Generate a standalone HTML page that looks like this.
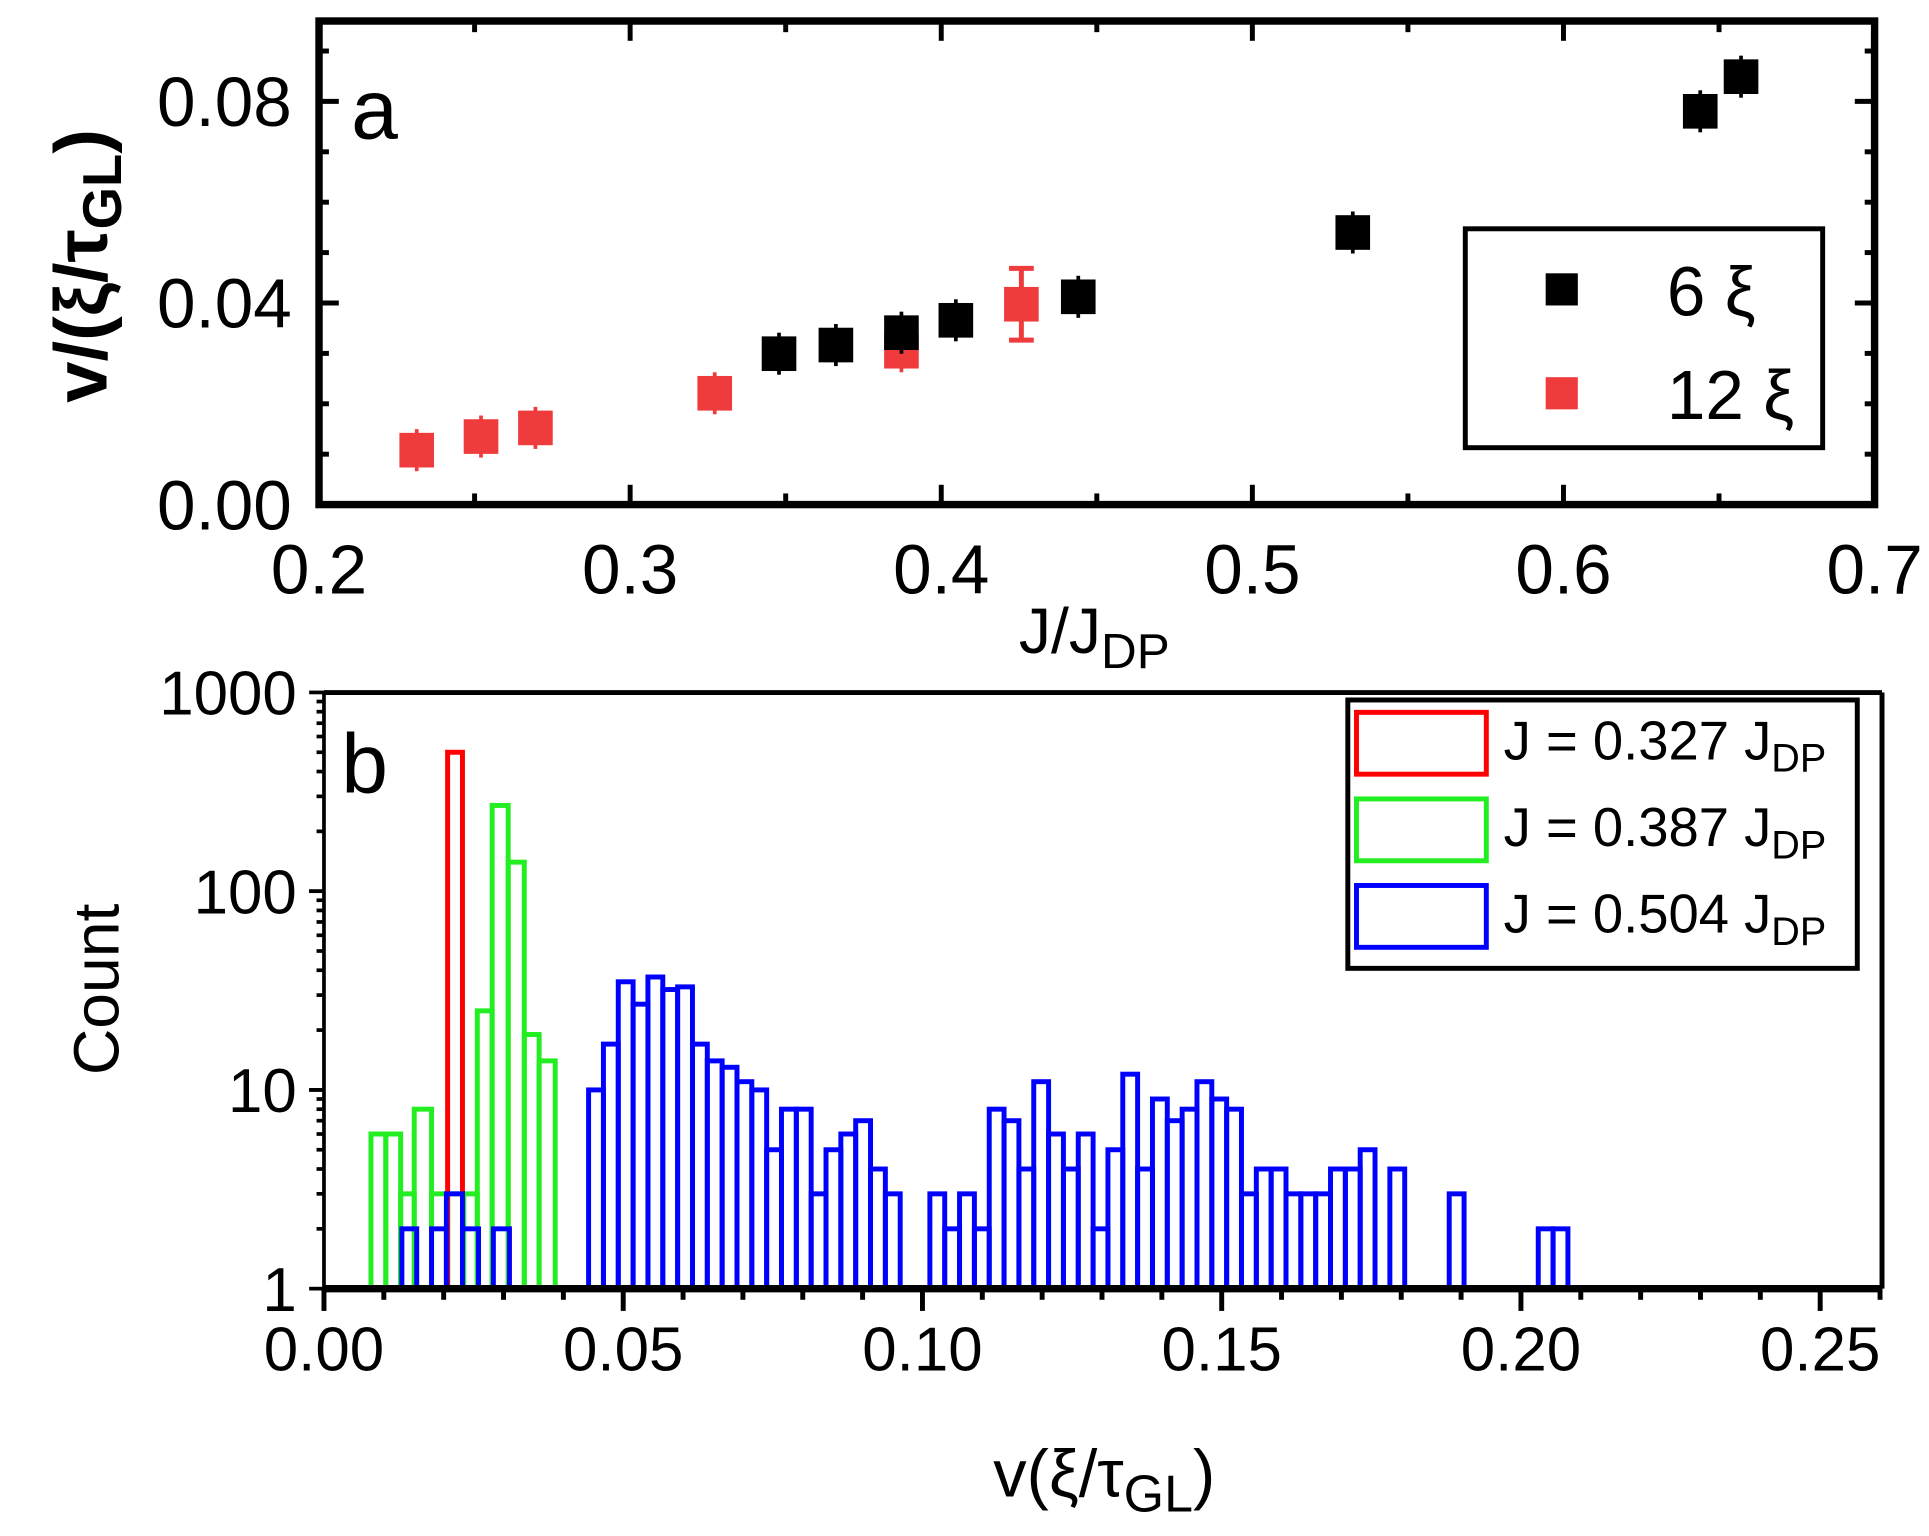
<!DOCTYPE html>
<html><head><meta charset="utf-8">
<style>
html,body{margin:0;padding:0;background:#fff;}
svg{display:block;}
text{font-family:"Liberation Sans",sans-serif;fill:#000;}
</style></head>
<body>
<svg id="s" width="1929" height="1536" viewBox="0 0 1560 1242" preserveAspectRatio="none" xmlns="http://www.w3.org/2000/svg">
<rect width="1560" height="1242" fill="#fff"/>
<g id="a"></g>
<g id="b"></g>
</svg>
<script>
const NS="http://www.w3.org/2000/svg";
function el(p,tag,attrs,txt){const e=document.createElementNS(NS,tag);for(const k in attrs)e.setAttribute(k,attrs[k]);if(txt!==undefined)e.innerHTML=txt;p.appendChild(e);return e;}
const A=document.getElementById('a'),B=document.getElementById('b');
// ---- Panel a ----
const ax0=258,ax1=1516,ay0=17,ay1=408;
const X=v=>258+(v-0.2)*2516, Y=v=>408-v*4075;
for(let i=0;i<=10;i++){const v=0.2+i*0.05,x=X(v),L=(i%2==0)?16:9;
 el(A,'line',{x1:x,y1:ay1,x2:x,y2:ay1-L,stroke:'#000','stroke-width':4});
 el(A,'line',{x1:x,y1:ay0,x2:x,y2:ay0+L,stroke:'#000','stroke-width':4});}
for(let i=0;i<=9;i++){const v=i*0.01,y=Y(v);const L=(i%4==0)?16:8;
 el(A,'line',{x1:ax0,y1:y,x2:ax0+L,y2:y,stroke:'#000','stroke-width':4});
 el(A,'line',{x1:ax1,y1:y,x2:ax1-L,y2:y,stroke:'#000','stroke-width':4});}
const red=[[337,364],[389,353],[433,346],[578,318],[729,284]];
red.forEach(p=>{el(A,'line',{x1:p[0],y1:p[1]-17,x2:p[0],y2:p[1]+17,stroke:'#ef3b3b','stroke-width':3});el(A,'rect',{x:p[0]-14,y:p[1]-14,width:28,height:28,fill:'#ef3b3b'});});
const blk=[[630,286],[676,279],[729,269],[773,259],[872,240],[1094,188],[1375,90],[1408,62]];
blk.forEach(p=>{el(A,'line',{x1:p[0],y1:p[1]-17,x2:p[0],y2:p[1]+17,stroke:'#000','stroke-width':3});el(A,'rect',{x:p[0]-14,y:p[1]-14,width:28,height:28,fill:'#000'});});
el(A,'line',{x1:826,y1:217,x2:826,y2:275,stroke:'#ef3b3b','stroke-width':4});
el(A,'line',{x1:816,y1:217,x2:836,y2:217,stroke:'#ef3b3b','stroke-width':4});
el(A,'line',{x1:816,y1:275,x2:836,y2:275,stroke:'#ef3b3b','stroke-width':4});
el(A,'rect',{x:812,y:232,width:28,height:28,fill:'#ef3b3b'});
el(A,'rect',{x:ax0,y:ay0,width:ax1-ax0,height:ay1-ay0,fill:'none',stroke:'#000','stroke-width':6});
el(A,'rect',{x:1185,y:185,width:289,height:177,fill:'#fff',stroke:'#000','stroke-width':4});
el(A,'rect',{x:1250,y:221,width:26,height:26,fill:'#000'});
el(A,'rect',{x:1250,y:305,width:26,height:26,fill:'#ef3b3b'});
el(A,'text',{x:1348,y:255,'font-size':56},'6 ξ');
el(A,'text',{x:1348,y:339,'font-size':56},'12 ξ');
el(A,'text',{x:284,y:112,'font-size':68},'a');
[['0.08',0.08],['0.04',0.04],['0.00',0]].forEach(t=>el(A,'text',{x:236,y:Y(t[1])+20,'font-size':56,'text-anchor':'end'},t[0]));
for(let i=0;i<=5;i++){const v=0.2+i*0.1;el(A,'text',{x:X(v),y:480,'font-size':56,'text-anchor':'middle'},v.toFixed(1));}
el(A,'text',{x:885,y:528,'font-size':52,'text-anchor':'middle'},'J/J<tspan font-size="40" dy="12">DP</tspan>');
el(A,'text',{x:0,y:0,'font-size':60,'text-anchor':'middle','font-weight':'bold',transform:'translate(86,215) rotate(-90)'},'v/(ξ/τ<tspan font-size="44" dy="12">GL</tspan><tspan dy="-12">)</tspan>');
// ---- Panel b ----
const bx0=262,bx1=1522,by0=560,by1=1042;
const BX=v=>262+v*4840, BY=c=>1042-160.7*Math.log10(c);
function bar(x0,x1,c,col){el(B,'rect',{x:x0,y:BY(c),width:x1-x0,height:by1-BY(c),fill:'none',stroke:col,'stroke-width':4});}
const gE=[300,312,324,335,349,362,375,386,398,411,424,436,449],gC=[6,6,3,8,3,3,3,25,270,140,19,14];
for(let i=0;i<gC.length;i++)bar(gE[i],gE[i+1],gC[i],'#22ee22');
bar(362,374,500,'#ff0000');
[[325,337,2],[349,361,2],[361,374,3],[374,387,2],[399,412,2]].forEach(b=>bar(b[0],b[1],b[2],'#0000ff'));
const bc=[10,17,35,27,37,32,33,17,14,13,11,10,5,8,8,3,5,6,7,4,3,0,0,3,2,3,2,8,7,4,11,6,4,6,2,5,12,4,9,7,8,11,9,8,3,4,4,3,3,3,4,4,5,0,4,0,0,0,3,0,0,0,0,0,2,2];
for(let i=0;i<bc.length;i++)if(bc[i]>0){const x=476+i*12.0;bar(x,x+12.0,bc[i],'#0000ff');}
for(let i=0;i<=26;i++){const v=i*0.01,x=BX(v);if(x>bx1)break;const L=(i%5==0)?18:9;
 el(B,'line',{x1:x,y1:by1,x2:x,y2:by1+L,stroke:'#000','stroke-width':4});}
for(let d=0;d<3;d++)for(let k=1;k<=10;k++){const c=Math.pow(10,d)*k;const y=BY(c);const L=(k==1||k==10)?12:6;
 el(B,'line',{x1:bx0,y1:y,x2:bx0-L,y2:y,stroke:'#000','stroke-width':3});}
el(B,'line',{x1:bx0,y1:by0,x2:bx1,y2:by0,stroke:'#000','stroke-width':4});
el(B,'line',{x1:bx1,y1:by0,x2:bx1,y2:by1,stroke:'#000','stroke-width':4});
el(B,'line',{x1:bx0,y1:by0,x2:bx0,y2:by1,stroke:'#000','stroke-width':3});
el(B,'line',{x1:bx0,y1:by1,x2:bx1,y2:by1,stroke:'#000','stroke-width':6});
el(B,'rect',{x:1090,y:566,width:412,height:217,fill:'#fff',stroke:'#000','stroke-width':4});
[['#ff0000',576,'0.327'],['#22ee22',646,'0.387'],['#0000ff',716,'0.504']].forEach(l=>{
 el(B,'rect',{x:1097,y:l[1],width:105,height:50,fill:'none',stroke:l[0],'stroke-width':4});
 el(B,'text',{x:1216,y:l[1]+38,'font-size':44},'J = '+l[2]+' J<tspan font-size="32" dy="10">DP</tspan>');});
el(B,'text',{x:276,y:641,'font-size':68},'b');
[['1000',1000],['100',100],['10',10],['1',1]].forEach(t=>el(B,'text',{x:240,y:BY(t[1])+18,'font-size':50,'text-anchor':'end'},t[0]));
for(let i=0;i<=5;i++){const v=i*0.05;el(B,'text',{x:BX(v),y:1108,'font-size':50,'text-anchor':'middle'},v.toFixed(2));}
el(B,'text',{x:893,y:1210,'font-size':54,'text-anchor':'middle'},'v(ξ/τ<tspan font-size="42" dy="12">GL</tspan><tspan dy="-12">)</tspan>');
el(B,'text',{x:0,y:0,'font-size':52,'text-anchor':'middle',transform:'translate(96,800) rotate(-90)'},'Count');
</script>
</body></html>
